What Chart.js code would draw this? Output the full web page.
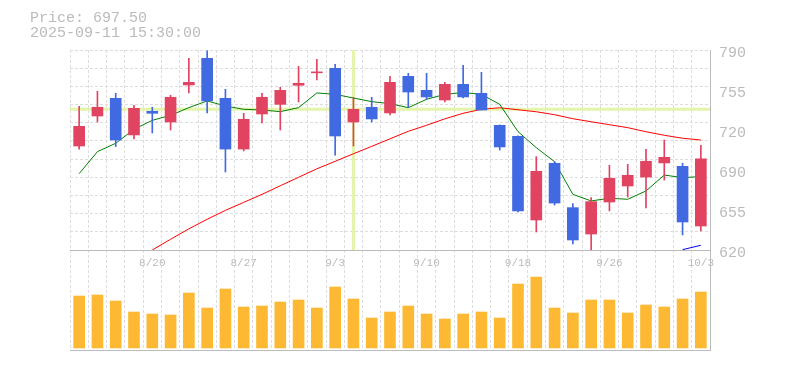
<!DOCTYPE html>
<html><head><meta charset="utf-8">
<script src="https://cdn.jsdelivr.net/npm/chart.js@4.4.1/dist/chart.umd.min.js"></script>
<style>
html,body{margin:0;padding:0;background:#fff;}
#wrap{position:relative;width:785px;height:370px;overflow:hidden;background:#fff;}
canvas{position:absolute;left:0;top:0;}
#info{position:absolute;left:30px;top:11px;font-family:'Liberation Mono',monospace;font-size:15px;line-height:15px;color:#bbb;white-space:pre;}
</style></head>
<body><div id="wrap">
<canvas id="vol" width="785" height="370"></canvas>
<canvas id="main" width="785" height="370"></canvas>
<div id="info">Price: 697.50
2025-09-11 15:30:00</div>
</div>
<script>
const dates = ['8/14','8/15','8/18','8/19','8/20','8/21','8/22','8/25','8/26','8/27','8/28','8/29','9/1','9/2','9/3','9/4','9/5','9/8','9/9','9/10','9/11','9/12','9/16','9/17','9/18','9/19','9/22','9/24','9/25','9/26','9/29','9/30','10/1','10/2','10/3'];
const opens  = [708.4,733.9,748.9,717.8,737.9,728.8,760.3,782.9,748.9,705.8,735.6,743.8,760.0,770.6,774.4,728.8,741.3,736.5,767.6,755.7,747.5,760.8,753.2,726.0,716.6,645.5,693.7,656.0,633.6,660.8,674.4,682.0,694.0,691.1,640.4];
const highs  = [742.1,754.9,753.2,743.0,741.3,751.5,782.9,789.2,756.6,736.2,753.2,758.3,776.1,782.1,777.8,749.8,749.8,767.6,770.2,770.2,762.5,777.0,771.0,726.3,717.0,699.4,695.1,659.4,664.5,692.0,692.8,705.6,713.5,693.7,709.0];
const lows   = [705.8,728.8,707.9,714.4,719.5,722.0,753.5,736.5,686.3,704.2,728.0,722.0,745.8,764.5,700.7,708.4,728.8,734.8,741.3,748.1,745.8,749.2,739.0,705.0,652.3,635.3,658.2,625.1,620.0,653.2,665.0,655.7,679.5,632.8,636.2];
const closes = [725.1,741.3,713.5,740.4,736.2,749.8,762.5,746.7,705.8,731.1,749.8,755.7,761.7,771.4,716.9,739.6,731.4,762.5,754.3,750.1,760.8,750.1,739.0,707.6,653.2,686.9,659.9,628.5,661.1,680.9,683.5,695.4,698.8,643.8,697.5];
const volumes = [520,530,470,360,340,330,550,400,590,410,420,460,480,400,610,490,300,360,420,340,290,340,360,300,640,710,400,350,480,480,350,430,410,490,560];
const ma5  = [684.9,703.6,710.7,722.6,730.2,734.5,741.0,746.7,742.4,739.6,739.0,737.6,741.0,753.5,752.3,749.2,746.1,744.4,741.0,748.1,752.3,753.8,752.3,743.8,720.6,707.0,695.1,667.3,661.7,664.0,663.1,670.2,683.7,681.5,682.4];
const ma25 = [null,null,null,null,620.0,629.1,638.0,646.1,653.7,660.5,667.3,674.6,681.8,689.0,695.4,701.8,708.1,714.5,720.9,726.0,731.5,736.2,739.6,740.9,739.2,737.5,735.0,731.6,729.0,726.5,724.0,720.5,717.5,715.0,713.5];
const ma75 = [null,null,null,null,null,null,null,null,null,null,null,null,null,null,null,null,null,null,null,null,null,null,null,null,null,null,null,null,null,null,null,null,null,620.3,624.0];
const xTickLabels = ['8/20','8/27','9/3','9/10','9/18','9/26','10/3'];
const yTickValues = [620,654,688,722,756,790];
const yTickLabels = ['620','655','690','720','755','790'];
const crossIndex = 15;
const crossPrice = 739.6;

const UP = '#e04460', DOWN = '#4169e1';
const candleColors = closes.map((c,i) => c >= opens[i] ? UP : DOWN);
const FONT = "'Liberation Mono', monospace";
const GRID = '#dddddd', AXIS = '#bbbbbb', TXT = '#bbbbbb';
const yMin = 620, yMax = 790, yGridSteps = 11;

const crosshair = {
  id: 'crosshair',
  beforeDatasetsDraw(chart) {
    const {ctx, chartArea: a, scales} = chart;
    const x = scales.x.getPixelForValue(crossIndex);
    const y = scales.y.getPixelForValue(crossPrice);
    ctx.save();
    ctx.strokeStyle = '#e3f5aa';
    ctx.lineWidth = 3;
    ctx.beginPath();
    ctx.moveTo(a.left, y); ctx.lineTo(a.right, y);
    ctx.moveTo(x, a.top); ctx.lineTo(x, a.bottom);
    ctx.stroke();
    ctx.restore();
  }
};

new Chart(document.getElementById('main'), {
  data: {
    labels: dates,
    datasets: [
      {type:'line', label:'MA5', data: ma5, borderColor:'#008000', borderWidth:1, pointRadius:0, tension:0, order:3},
      {type:'line', label:'MA25', data: ma25, borderColor:'#ff0000', borderWidth:1, pointRadius:0, tension:0, order:3},
      {type:'line', label:'MA75', data: ma75, borderColor:'#0000ff', borderWidth:1, pointRadius:0, tension:0, order:3},
      {type:'bar', label:'wick', data: lows.map((l,i)=>[l, highs[i]]), backgroundColor: candleColors, barThickness:1, grouped:false, order:2},
      {type:'bar', label:'body', data: opens.map((o,i)=>[o, closes[i]]), backgroundColor: candleColors, barThickness:11, grouped:false, order:1}
    ]
  },
  options: {
    responsive:false, animation:false, devicePixelRatio:1,
    layout:{padding:{left:70, top:50, right:0, bottom:100}},
    plugins:{legend:{display:false}, tooltip:{enabled:false}},
    scales: {
      x: {type:'category', offset:true,
          grid:{offset:true, color:GRID, drawTicks:false},
          border:{color:AXIS, dash:[3,2]},
          ticks:{autoSkip:false, maxRotation:0, minRotation:0, padding:6, color:TXT, font:{family:FONT, size:11},
                 callback:(v,i)=> xTickLabels.includes(dates[i]) ? dates[i] : ''},
          afterFit:s=>{s.height=20;}},
      y: {position:'right', min:yMin, max:yMax,
          afterBuildTicks:s=>{ const t=[]; for(let k=0;k<=yGridSteps;k++) t.push({value:yMin+(yMax-yMin)*k/yGridSteps}); s.ticks=t; },
          ticks:{display:false}, grid:{color:GRID, drawTicks:false},
          border:{display:false, dash:[3,2]},
          afterFit:s=>{s.width=0;}},
      yl: {position:'right', min:yMin, max:yMax,
          afterBuildTicks:s=>{ s.ticks = yTickValues.map(v=>({value:v})); },
          grid:{display:false, drawTicks:false},
          border:{display:true, color:AXIS},
          ticks:{padding:9, labelOffset:3, color:TXT, font:{family:FONT, size:15}, callback:(v,i)=>yTickLabels[i]},
          afterFit:s=>{s.width=75;}}
    }
  },
  plugins:[crosshair]
});

new Chart(document.getElementById('vol'), {
  type:'bar',
  data:{labels:dates, datasets:[{label:'Volume', data:volumes, backgroundColor:'#fdb933', barThickness:11}]},
  options:{
    responsive:false, animation:false, devicePixelRatio:1,
    layout:{padding:{left:70, top:250, right:0, bottom:0}},
    plugins:{legend:{display:false}, tooltip:{enabled:false}},
    scales:{
      x:{offset:true, grid:{offset:true, color:GRID, drawTicks:false}, border:{color:AXIS, dash:[3,2]}, ticks:{display:false}, afterFit:s=>{s.height=20;}},
      y:{position:'right', min:-20, max:980, grid:{display:false}, border:{color:AXIS}, ticks:{display:false}, afterFit:s=>{s.width=75;}}
    }
  }
});
</script>
</body></html>
